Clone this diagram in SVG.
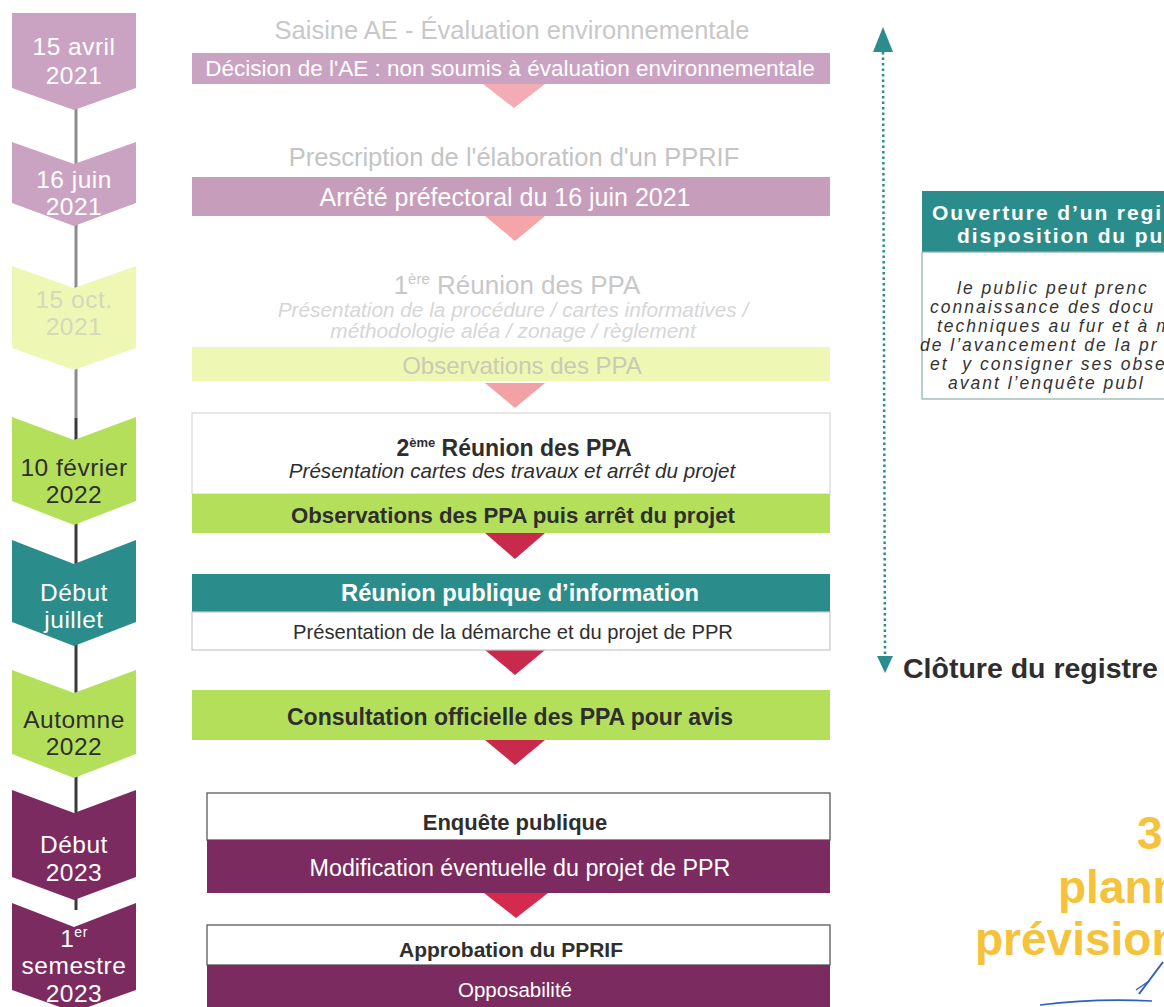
<svg xmlns="http://www.w3.org/2000/svg" width="1164" height="1007" viewBox="0 0 1164 1007">
<style>
text{font-family:"Liberation Sans",Arial,sans-serif;}
.c{text-anchor:middle;}
.b{font-weight:bold;}
.i{font-style:italic;}
.w{fill:#ffffff;}
.dk{fill:#2e2e2e;}
.chev{font-size:24.5px;letter-spacing:0.5px;text-anchor:middle;}
.mauve{fill:#cba3c2;}
.pale{fill:#eff7b4;}
.lime{fill:#b4df5b;}
.teal{fill:#2b8c8c;}
.purple{fill:#7b2b5f;}
.tri1{fill:#f3acb4;}
.tri2{fill:#c92a4b;}
.box{fill:#ffffff;stroke:#d8d8d8;stroke-width:1.2;}
.box2{fill:#ffffff;stroke:#5a5a5a;stroke-width:1.3;}
.side{font-size:17.5px;font-style:italic;letter-spacing:2px;fill:#333;}
.hd{font-size:21px;font-weight:bold;letter-spacing:1.9px;fill:#ffffff;}
.ttl{font-size:46px;font-weight:bold;fill:#f5c23c;}
</style>
<rect x="0" y="0" width="1164" height="1007" fill="#ffffff"/>

<g id="connectors">
  <line x1="76" y1="105" x2="76" y2="418" stroke="#8c8c8c" stroke-width="3"/>
  <line x1="76" y1="418" x2="76" y2="910" stroke="#3a3a3a" stroke-width="3"/>
  <polygon class="tri1" points="483,84 545,84 514,108"/>
  <polygon class="tri1" points="485,216 545,216 515,241" style="fill:#f5a5a8"/>
  <polygon class="tri1" points="485,383 545,383 515,408" style="fill:#f2a2a4"/>
  <polygon class="tri2" points="485,533 545,533 515,559"/>
  <polygon class="tri2" points="485,650 545,650 515,675"/>
  <polygon class="tri2" points="485,740 545,740 515,765"/>
  <polygon class="tri2" points="484,893 548,893 516,918" style="fill:#d32a4e"/>
  <line x1="883" y1="52" x2="885" y2="656" stroke="#2b8c8c" stroke-width="2.5" stroke-dasharray="2.5 3"/>
  <polygon class="teal" points="873,52 893,52 883,27"/>
  <polygon class="teal" points="877,656 893,656 885,673"/>
</g>

<g id="timeline">
  <g id="t1">
    <path class="mauve" d="M12,13 L136,13 L136,88 L74,110 L12,88 Z"/>
    <text class="chev w" x="74" y="55">15 avril</text>
    <text class="chev w" x="74" y="84">2021</text>
  </g>
  <g id="t2">
    <path class="mauve" d="M12,142 L74,164 L136,142 L136,203 L74,226 L12,203 Z"/>
    <text class="chev w" x="74" y="188">16 juin</text>
    <text class="chev w" x="74" y="215">2021</text>
  </g>
  <g id="t3">
    <path class="pale" d="M12,266 L74,288 L136,266 L136,348 L74,370 L12,348 Z"/>
    <text class="chev" x="74" y="308" fill="#d4d8bc">15 oct.</text>
    <text class="chev" x="74" y="335" fill="#d4d8bc">2021</text>
  </g>
  <g id="t4">
    <path class="lime" d="M12,417 L74,440 L136,417 L136,501 L74,525 L12,501 Z"/>
    <text class="chev dk" x="74" y="476">10 février</text>
    <text class="chev dk" x="74" y="503">2022</text>
  </g>
  <g id="t5">
    <path class="teal" d="M12,540 L74,564 L136,540 L136,622 L74,646 L12,622 Z"/>
    <text class="chev w" x="74" y="601">Début</text>
    <text class="chev w" x="74" y="628">juillet</text>
  </g>
  <g id="t6">
    <path class="lime" d="M12,670 L74,693 L136,670 L136,754 L74,778 L12,754 Z"/>
    <text class="chev dk" x="74" y="728">Automne</text>
    <text class="chev dk" x="74" y="755">2022</text>
  </g>
  <g id="t7">
    <path class="purple" d="M12,790 L74,813 L136,790 L136,877 L74,900 L12,877 Z"/>
    <text class="chev w" x="74" y="853">Début</text>
    <text class="chev w" x="74" y="881">2023</text>
  </g>
  <g id="t8">
    <path class="purple" d="M12,903 L74,927 L136,903 L136,990 L74,1012 L12,990 Z"/>
    <text class="chev w" x="74" y="947">1<tspan font-size="14" dy="-10">er</tspan></text>
    <text class="chev w" x="74" y="974">semestre</text>
    <text class="chev w" x="74" y="1002">2023</text>
  </g>
</g>

<g id="step1">
  <text class="c" x="512" y="39" font-size="25.5" fill="#c8c8c8">Saisine AE - Évaluation environnementale</text>
  <rect class="mauve" x="192" y="53" width="638" height="31"/>
  <text class="c w" x="510" y="76" font-size="22.5">Décision de l'AE : non soumis à évaluation environnementale</text>
</g>

<g id="step2">
  <text class="c" x="514" y="166" font-size="25.5" fill="#c4c4c4">Prescription de l'élaboration d'un PPRIF</text>
  <rect x="192" y="177" width="638" height="39" fill="#c79dbc"/>
  <text class="c w" x="505" y="206" font-size="25">Arrêté préfectoral du 16 juin 2021</text>
</g>

<g id="step3">
  <text class="c" x="517" y="294" font-size="26" fill="#c8c8c8">1<tspan font-size="15" dy="-10">ère</tspan><tspan dy="10"> Réunion des PPA</tspan></text>
  <text class="c i" x="513" y="317" font-size="20.8" fill="#d6d6d6">Présentation de la procédure / cartes informatives /</text>
  <text class="c i" x="513" y="338" font-size="20.8" fill="#d6d6d6">méthodologie aléa / zonage / règlement</text>
  <rect class="pale" x="192" y="347" width="638" height="34"/>
  <text class="c" x="522" y="374" font-size="24" fill="#c9cbb5">Observations des PPA</text>
</g>

<g id="step4">
  <rect class="box" x="192" y="413" width="638" height="81"/>
  <text class="c b dk" x="514" y="456" font-size="23">2<tspan font-size="13" dy="-9">ème</tspan><tspan dy="9"> Réunion des PPA</tspan></text>
  <text class="c i dk" x="512" y="478" font-size="20.6">Présentation cartes des travaux et arrêt du projet</text>
  <rect class="lime" x="192" y="494" width="638" height="39"/>
  <text class="c b dk" x="513" y="523" font-size="22.2">Observations des PPA puis arrêt du projet</text>
</g>

<g id="step5">
  <rect class="teal" x="192" y="574" width="638" height="38"/>
  <text class="c b w" x="520" y="601" font-size="23.7">Réunion publique d’information</text>
  <rect class="box" x="192" y="612" width="638" height="38" style="stroke:#c8c8c8"/>
  <text class="c dk" x="513" y="639" font-size="20.2">Présentation de la démarche et du projet de PPR</text>
</g>

<g id="step6">
  <rect class="lime" x="192" y="690" width="638" height="50"/>
  <text class="c b dk" x="510" y="725" font-size="23">Consultation officielle des PPA pour avis</text>
</g>

<g id="step7">
  <rect class="box2" x="207" y="793" width="623" height="47"/>
  <text class="c b dk" x="515" y="830" font-size="22">Enquête publique</text>
  <rect class="purple" x="207" y="840" width="623" height="53"/>
  <text class="c w" x="520" y="876" font-size="23.3">Modification éventuelle du projet de PPR</text>
</g>

<g id="step8">
  <rect class="box2" x="207" y="925" width="623" height="40"/>
  <text class="c b dk" x="511" y="957" font-size="21">Approbation du PPRIF</text>
  <rect class="purple" x="207" y="965" width="623" height="42"/>
  <text class="c w" x="515" y="997" font-size="20.5">Opposabilité</text>
</g>

<g id="registre">
  <rect class="teal" x="922" y="191" width="250" height="61"/>
  <text class="hd" x="932" y="220">Ouverture d’un regi</text>
  <text class="hd" x="957" y="243">disposition du pu</text>
  <rect x="922" y="252" width="250" height="147" fill="#ffffff" stroke="#8fb0b0" stroke-width="1.2"/>
  <text class="side" x="957" y="294">le public peut prenc</text>
  <text class="side" x="930" y="313">connaissance des docu</text>
  <text class="side" x="937" y="332">techniques au fur et à m</text>
  <text class="side" x="920" y="351">de l’avancement de la pr</text>
  <text class="side" x="930" y="370">et&#160; y consigner ses obse</text>
  <text class="side" x="948" y="389">avant l’enquête publ</text>
</g>

<g id="cloture">
  <text class="b dk" x="903" y="678" font-size="28.5">Clôture du registre</text>
</g>

<g id="title">
  <text class="ttl" x="1137" y="849">3.</text>
  <text class="ttl" x="1058" y="903">plann</text>
  <text class="ttl" x="975" y="955">prévision</text>
  <path d="M1040,1005 Q1095,998 1152,1001" fill="none" stroke="#2f5fc4" stroke-width="1.6"/>
  <path d="M1139,994 L1163,962" fill="none" stroke="#2f5fc4" stroke-width="2"/>
  <path d="M1136,990 L1149,981" fill="none" stroke="#2f5fc4" stroke-width="1.4"/>
</g>
</svg>
